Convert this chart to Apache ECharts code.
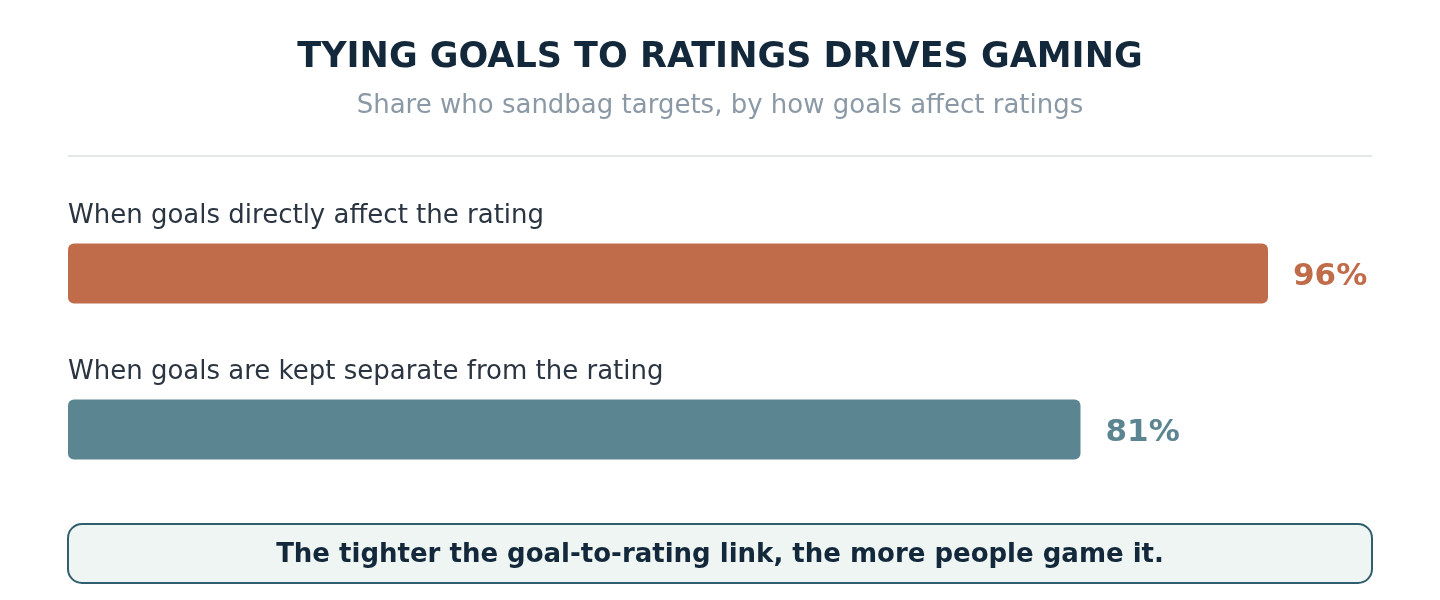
<!DOCTYPE html>
<html>
<head>
<meta charset="utf-8">
<script src="https://cdn.jsdelivr.net/npm/echarts@6/dist/echarts.min.js"></script>
<style>
html,body{margin:0;padding:0;background:#ffffff;}
#chart{width:1440px;height:600px;}
</style>
</head>
<body>
<div id="chart"></div>
<script>
const titleText = 'TYING GOALS TO RATINGS DRIVES GAMING';
const subtitleText = 'Share who sandbag targets, by how goals affect ratings';
const categories = ['When goals directly affect the rating', 'When goals are kept separate from the rating'];
const values = [96, 81];
const barColors = ['#c06c4b', '#5c8592'];
const takeaway = 'The tighter the goal-to-rating link, the more people game it.';

const FONT = 'DejaVu Sans';
const chart = echarts.init(document.getElementById('chart'), null, {renderer: 'canvas'});

chart.setOption({
  backgroundColor: '#ffffff',
  animation: false,
  title: [
    {
      text: titleText, left: 'center', top: 40, padding: 0,
      textStyle: {fontFamily: FONT, fontSize: 35, fontWeight: 'bold', color: '#13293b'}
    },
    {
      text: subtitleText, left: 'center', top: 93, padding: 0,
      textStyle: {fontFamily: FONT, fontSize: 26, fontWeight: 'normal', color: '#8a99a5'}
    }
  ],
  grid: {left: 68, top: 195.5, width: 1250, height: 312, containLabel: false},
  xAxis: {type: 'value', min: 0, max: 100, show: false},
  yAxis: {type: 'category', data: categories, inverse: true, show: false},
  series: [
    {
      type: 'bar',
      barWidth: 60,
      data: values.map((v, i) => ({
        value: v,
        itemStyle: {color: barColors[i], borderRadius: 6},
        label: {color: barColors[i]}
      })),
      label: {
        show: true, position: 'right', distance: 25, offset: [0, 3],
        fontFamily: FONT, fontSize: 31, fontWeight: 'bold',
        formatter: p => p.value + '%'
      },
      z: 2
    },
    {
      type: 'bar',
      barWidth: 60,
      barGap: '-100%',
      silent: true,
      data: values.map((v, i) => ({value: v})),
      itemStyle: {color: 'rgba(0,0,0,0)'},
      label: {
        show: true, position: [0, -27], align: 'left', verticalAlign: 'middle',
        fontFamily: FONT, fontSize: 26, color: '#2b3541',
        formatter: p => categories[p.dataIndex]
      },
      z: 1
    }
  ],
  graphic: [
    {
      type: 'line', silent: true,
      shape: {x1: 68, y1: 156, x2: 1372, y2: 156},
      style: {stroke: '#e3e7ea', lineWidth: 2}
    },
    {
      type: 'rect', silent: true,
      shape: {x: 68, y: 524, width: 1304, height: 59, r: 14},
      style: {fill: '#eef5f2', stroke: '#2f5f6e', lineWidth: 2}
    },
    {
      type: 'text', silent: true,
      x: 720, y: 555,
      style: {
        text: takeaway, align: 'center', verticalAlign: 'middle',
        font: 'bold 26px "DejaVu Sans"', fill: '#13293b'
      }
    }
  ]
});
</script>
</body>
</html>
